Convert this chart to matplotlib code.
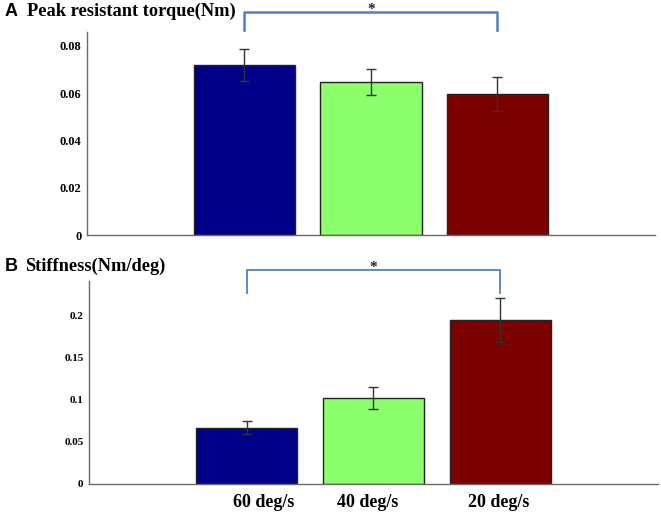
import matplotlib
matplotlib.use("Agg")
import matplotlib.pyplot as plt
import matplotlib.transforms as mtransforms

# data
speeds = ["60 deg/s", "40 deg/s", "20 deg/s"]
torque_mean = [0.0719, 0.0647, 0.0596]
torque_err = [0.0067, 0.0055, 0.0072]
stiff_mean = [0.0667, 0.1027, 0.1949]
stiff_err = [0.0077, 0.0133, 0.0260]
torque_ticks = [0, 0.02, 0.04, 0.06, 0.08]
torque_ticklabels = ["0", "0.02", "0.04", "0.06", "0.08"]
stiff_ticks = [0, 0.05, 0.1, 0.15, 0.2]
stiff_ticklabels = ["0", "0.05", "0.1", "0.15", "0.2"]

colors = ["#000088", "#8cff6c", "#7b0000"]
serif = "Liberation Serif"
bracket_color = "#4f81bd"

fig = plt.figure(figsize=(6.61, 5.14), dpi=100)
ax1 = fig.add_axes([0.1316, 0.5428, 0.8593, 0.395])
ax2 = fig.add_axes([0.1346, 0.0584, 0.8609, 0.395])

pos = list(range(1, len(speeds) + 1))


def draw_panel(ax, means, errs, ticks, ticklabels, ytop, tick_size):
    ax.bar(pos, means, width=0.8, color=colors, edgecolor="#222222", linewidth=1.0, zorder=2)
    ax.errorbar(pos, means, yerr=errs, fmt="none", ecolor="#333333",
                elinewidth=1.0, capsize=3.8, capthick=1.0, zorder=3)
    ax.set_xlim(-0.245, 4.245)
    ax.set_ylim(0, ytop)
    ax.set_yticks(ticks)
    ax.set_yticklabels(ticklabels, fontfamily=serif, fontweight="bold", fontsize=tick_size)
    for s in ["top", "right"]:
        ax.spines[s].set_visible(False)
    for s in ["left", "bottom"]:
        ax.spines[s].set_color("#6a6a6a")
        ax.spines[s].set_linewidth(1.0)
    ax.tick_params(axis="y", length=0, pad=4)
    ax.tick_params(axis="x", length=0)


def bracket(ax, y_low, y_high, lw):
    ax.plot([pos[0], pos[0], pos[2], pos[2]], [y_low, y_high, y_high, y_low],
            color=bracket_color, linewidth=lw, clip_on=False)
    ax.annotate("*", xy=((pos[0] + pos[2]) / 2, y_high), xytext=(0, -3),
                textcoords="offset points", ha="center", va="bottom",
                fontsize=11, fontfamily=serif, fontweight="bold", color="#222222",
                annotation_clip=False)


draw_panel(ax1, torque_mean, torque_err, torque_ticks, torque_ticklabels, 0.0858, 9)
ax1.set_xticks([])
bracket(ax1, 0.0867, 0.0943, 1.8)

draw_panel(ax2, stiff_mean, stiff_err, stiff_ticks, stiff_ticklabels, 0.2417, 8)
bracket(ax2, 0.2274, 0.2548, 1.3)
ax2.set_xticks(pos)
ax2.set_xticklabels(speeds, fontfamily=serif, fontweight="bold", fontsize=13)
ax2.tick_params(axis="x", pad=7)
# labels in the original sit a little off the bar centres
shifts = [17, -6, -2]
for lab, dx in zip(ax2.get_xticklabels(), shifts):
    off = mtransforms.ScaledTranslation(dx / 100, 0, fig.dpi_scale_trans)
    lab.set_transform(lab.get_transform() + off)

# panel titles
fig.text(0.007, 0.977, "A", fontfamily="Liberation Sans", fontweight="bold", fontsize=13, va="center")
fig.text(0.041, 0.977, "Peak resistant torque(Nm)", fontfamily=serif, fontweight="bold",
         fontsize=13.2, va="center")
fig.text(0.007, 0.481, "B", fontfamily="Liberation Sans", fontweight="bold", fontsize=13, va="center")
fig.text(0.038, 0.481, "Stiffness(Nm/deg)", fontfamily=serif, fontweight="bold",
         fontsize=13.2, va="center")

fig.savefig("out.png", dpi=100)
